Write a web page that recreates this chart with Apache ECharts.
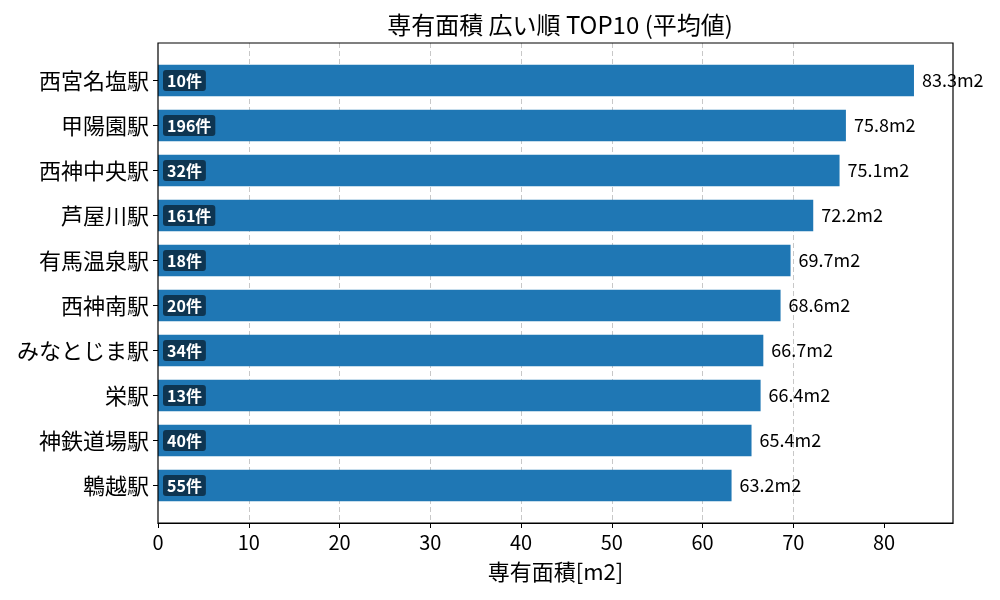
<!DOCTYPE html>
<html>
<head>
<meta charset="utf-8">
<script src="https://cdn.jsdelivr.net/npm/echarts@6/dist/echarts.min.js"></script>
<style>
  html, body { margin: 0; padding: 0; background: #fff; }
  #main { width: 1000px; height: 600px; }
</style>
</head>
<body>
<div id="main"></div>
<script>
// 駅名（上から順）
const stations = ['西宮名塩駅', '甲陽園駅', '西神中央駅', '芦屋川駅', '有馬温泉駅', '西神南駅', 'みなとじま駅', '栄駅', '神鉄道場駅', '鵯越駅'];
// 平均専有面積 [m2]
const areas = [83.3, 75.8, 75.1, 72.2, 69.7, 68.6, 66.7, 66.4, 65.4, 63.2];
// 件数
const counts = [10, 196, 32, 161, 18, 20, 34, 13, 40, 55];
// x軸目盛
const xTicks = [0, 10, 20, 30, 40, 50, 60, 70, 80];

const FONT = '"Noto Sans CJK JP", "Noto Sans", sans-serif';
const xMax = 87.6;

const chart = echarts.init(document.getElementById('main'));

const option = {
  animation: false,
  title: {
    text: '専有面積 広い順 TOP10 (平均値)',
    left: 555,
    top: 8,
    textAlign: 'center',
    textStyle: { fontFamily: FONT, fontSize: 24, fontWeight: 'normal', color: '#000' }
  },
  grid: [
    // 枠・グリッド線用
    { left: 158, right: 47, top: 43, bottom: 77, show: true, borderColor: '#000', borderWidth: 1.2, backgroundColor: 'transparent', z: 5 },
    // 棒グラフ用
    { left: 158, right: 47, top: 58, bottom: 92 }
  ],
  xAxis: [
    {
      gridIndex: 0,
      type: 'value',
      min: 0,
      max: xMax,
      interval: 10,
      name: '専有面積[m2]',
      nameLocation: 'middle',
      nameGap: 38,
      nameTextStyle: { fontFamily: FONT, fontSize: 22, color: '#000' },
      axisLine: { show: true, lineStyle: { color: '#000', width: 1.2 } },
      axisTick: { show: true, length: 5, customValues: xTicks, lineStyle: { color: '#000' } },
      axisLabel: {
        fontFamily: FONT, fontSize: 20, color: '#000', margin: 9,
        customValues: xTicks
      },
      splitLine: { show: true, showMaxLine: false, showMinLine: false, lineStyle: { color: '#c8c8c8', type: [5, 3], width: 1 } }
    },
    {
      gridIndex: 1,
      type: 'value',
      min: 0,
      max: xMax,
      show: false
    }
  ],
  yAxis: [
    { gridIndex: 0, type: 'value', show: false, min: 0, max: 1 },
    {
      gridIndex: 1,
      type: 'category',
      data: stations,
      inverse: true,
      axisLine: { show: false },
      axisTick: { show: true, alignWithLabel: true, length: 5, lineStyle: { color: '#000' } },
      axisLabel: { fontFamily: FONT, fontSize: 22, color: '#000', margin: 9 },
      splitLine: { show: false }
    }
  ],
  series: [
    {
      type: 'bar',
      xAxisIndex: 1,
      yAxisIndex: 1,
      data: areas,
      barWidth: '70%',
      barGap: '-100%',
      itemStyle: { color: '#1f77b4' },
      label: {
        show: true,
        position: 'insideLeft',
        distance: 5,
        formatter: p => counts[p.dataIndex] + '件',
        fontFamily: FONT,
        fontSize: 16,
        fontWeight: 'bold',
        color: '#fff',
        backgroundColor: 'rgba(0,0,0,0.55)',
        borderRadius: 3,
        padding: [3, 4, 2, 4]
      },
      z: 2
    },
    {
      type: 'bar',
      xAxisIndex: 1,
      yAxisIndex: 1,
      data: areas,
      barWidth: '70%',
      barGap: '-100%',
      itemStyle: { color: 'transparent' },
      label: {
        show: true,
        position: 'right',
        distance: 8,
        formatter: p => p.value.toFixed(1) + 'm2',
        fontFamily: FONT,
        fontSize: 18,
        color: '#000'
      },
      z: 3
    }
  ]
};

chart.setOption(option);
</script>
</body>
</html>
